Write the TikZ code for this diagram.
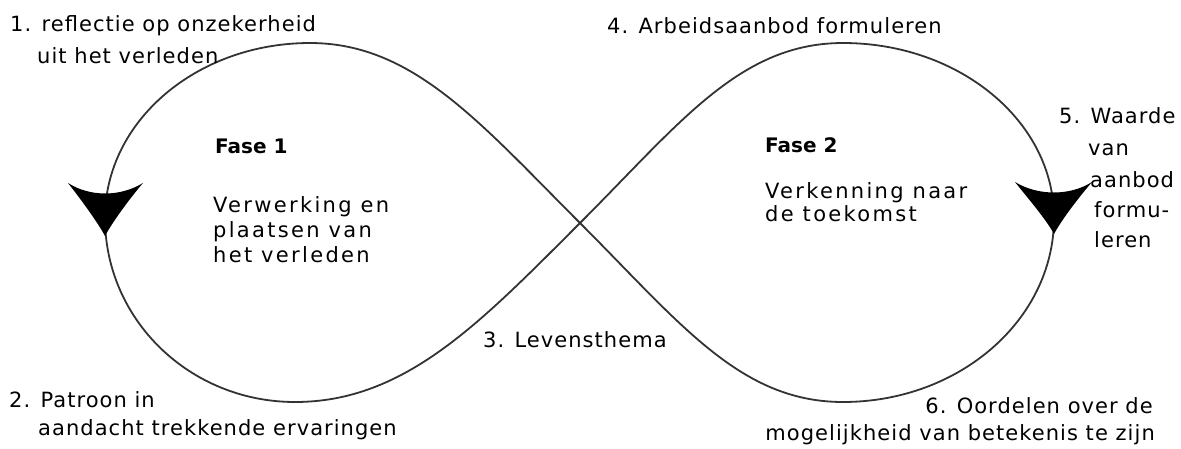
\documentclass[tikz,border=0pt]{standalone}
\usepackage{fontspec}
\setmainfont{DejaVu Sans}
\newfontfamily\lblfont[LetterSpace=5]{DejaVu Sans}
\newfontfamily\innerfont[LetterSpace=11]{DejaVu Sans}
\newfontfamily\fasefont{DejaVu Sans Bold}
\begin{document}
\begin{tikzpicture}[x=1pt,y=-1pt]
\tikzset{
  lbl/.style={anchor=base west, inner sep=0pt, font=\lblfont\fontsize{21}{25}\selectfont, text=black},
  lblr/.style={lbl, anchor=base east},
  inr/.style={anchor=base west, inner sep=0pt, font=\innerfont\fontsize{21}{25}\selectfont, text=black},
  fase/.style={anchor=base west, inner sep=0pt, font=\fasefont\fontsize{20}{24}\selectfont, text=black},
  loop/.style={draw=black!80, line width=1.8pt},
  arrowhead/.style={fill=black}
}
\useasboundingbox (0,0) rectangle (1181,448);
% figure eight
\coordinate (C) at (580,223);
\coordinate (RT) at (843,43);
\coordinate (RR) at (1054,218);
\coordinate (RB) at (843,402);
\coordinate (LT) at (310,43);
\coordinate (LL) at (105,218);
\coordinate (LB) at (295,402);
\draw[loop] (C) .. controls (680,123) and (740,43) .. (RT)
  .. controls (959,43) and (1054,121) .. (RR)
  .. controls (1054,320) and (959,402) .. (RB)
  .. controls (740,402) and (680,323) .. (C)
  .. controls (480,123) and (413,43) .. (LT)
  .. controls (197,43) and (105,121) .. (LL)
  .. controls (105,320) and (190,402) .. (LB)
  .. controls (405,402) and (480,323) .. (C);
% arrowheads
\fill[arrowhead] (105,236) .. controls (97,221) and (79,197) .. (68,183)
  .. controls (90,197) and (120,197) .. (143,183)
  .. controls (131,197) and (113,221) .. (105,236) -- cycle;
\fill[arrowhead] (1054,234) .. controls (1046,219) and (1026,196) .. (1015,182)
  .. controls (1038,196) and (1070,196) .. (1092,182)
  .. controls (1080,196) and (1062,219) .. (1054,234) -- cycle;
% labels
\node[lbl] (l1a) at (10,31) {1. reflectie op onzekerheid};
\node[lbl] (l1b) at (37,63) {uit het verleden};
\node[lbl] (l2a) at (9,407) {2. Patroon in};
\node[lbl] (l2b) at (38,435) {aandacht trekkende ervaringen};
\node[lbl] (l3) at (483,347) {3. Levensthema};
\node[lbl] (l4) at (607,33) {4. Arbeidsaanbod formuleren};
\node[lbl] (l5a) at (1059,123) {5. Waarde};
\node[lbl] (l5b) at (1088,155) {van};
\node[lbl] (l5c) at (1090,187) {aanbod};
\node[lbl] (l5d) at (1094,217) {formu-};
\node[lbl] (l5e) at (1094,247) {leren};
\node[lblr] (l6a) at (1153,413) {6. Oordelen over de};
\node[lblr] (l6b) at (1155,440) {mogelijkheid van betekenis te zijn};
% phases
\node[fase] (f1) at (215,153) {Fase 1};
\node[inr] (f1a) at (213,212) {Verwerking en};
\node[inr] (f1b) at (213,237) {plaatsen van};
\node[inr] (f1c) at (213,262) {het verleden};
\node[fase] (f2) at (765,152) {Fase 2};
\node[inr] (f2a) at (765,198) {Verkenning naar};
\node[inr] (f2b) at (765,221) {de toekomst};
\end{tikzpicture}
\end{document}
